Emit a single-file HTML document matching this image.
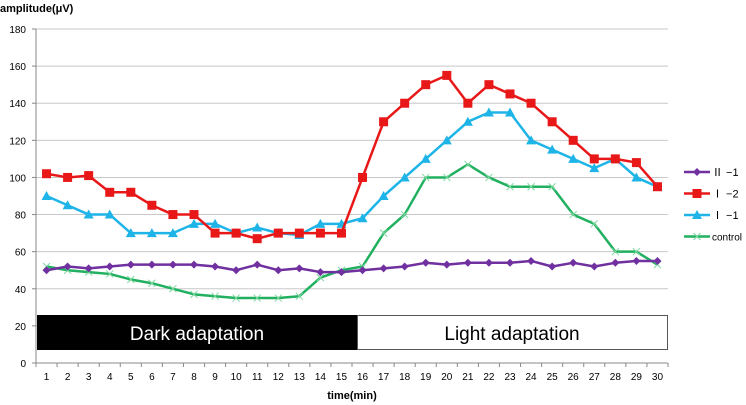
<!DOCTYPE html>
<html><head><meta charset="utf-8"><style>
html,body{margin:0;padding:0;background:#fff;}
svg{display:block;font-family:"Liberation Sans","Noto Sans CJK JP",sans-serif;}
</style></head><body>
<svg id="chart" width="746" height="405" viewBox="0 0 746 405" xmlns="http://www.w3.org/2000/svg">
<text x="0" y="12" font-size="11" font-weight="bold" fill="#000">amplitude(μV)</text>
<text x="352" y="399" font-size="11" font-weight="bold" fill="#000" text-anchor="middle">time(min)</text>
<g id="grid"></g>
<rect x="37" y="315" width="320" height="35" fill="#000"/>
<text x="197" y="340" font-size="19" fill="#fff" text-anchor="middle">Dark adaptation</text>
<rect x="357.5" y="315.5" width="310" height="34" fill="#fff" stroke="#555" stroke-width="1"/>
<text x="512" y="340" font-size="19" fill="#000" text-anchor="middle">Light adaptation</text>
<g id="axes"></g>
<g id="series"></g>
<g id="legend"></g>
</svg>
<script>
const categories = [1,2,3,4,5,6,7,8,9,10,11,12,13,14,15,16,17,18,19,20,21,22,23,24,25,26,27,28,29,30];
const yTicks = [0,20,40,60,80,100,120,140,160,180];
const seriesNames = ["Ⅱ −1","Ⅰ −2","Ⅰ −1","control"];
const seriesII1 = [50,52,51,52,53,53,53,53,52,50,53,50,51,49,49,50,51,52,54,53,54,54,54,55,52,54,52,54,55,55];
const seriesI2 = [102,100,101,92,92,85,80,80,70,70,67,70,70,70,70,100,130,140,150,155,140,150,145,140,130,120,110,110,108,95];
const seriesI1 = [90,85,80,80,70,70,70,75,75,70,73,70,69,75,75,78,90,100,110,120,130,135,135,120,115,110,105,110,100,95];
const seriesControl = [52,50,49,48,45,43,40,37,36,35,35,35,36,46,50,52,70,80,100,100,107,100,95,95,95,80,75,60,60,53];

const NS="http://www.w3.org/2000/svg";
const X0=36, X1=668, Y0=363, Y1=29, YMAX=180;
const band=(X1-X0)/categories.length;
const xPos=i=>X0+band*(i+0.5);
const yPos=v=>Y0-(v/YMAX)*(Y0-Y1);
function mk(tag,attrs,parent){const e=document.createElementNS(NS,tag);for(const k in attrs)e.setAttribute(k,attrs[k]);parent.appendChild(e);return e;}
const grid=document.getElementById('grid'), axes=document.getElementById('axes'), ser=document.getElementById('series'), leg=document.getElementById('legend');

yTicks.forEach(t=>{
  const y=yPos(t);
  if(t>0){const l=mk('line',{x1:X0,x2:X1,y1:y,y2:y,stroke:'#c8c8c8','stroke-width':1},grid);
  
  }
  const tk=mk('line',{x1:X0-4,x2:X0,y1:y,y2:y,stroke:'#888'},axes);
  
  
  const tx=mk('text',{x:X0-10,y:y+4,'font-size':10,'text-anchor':'end',fill:'#000'},axes);
  tx.textContent=t;
  
  
});
const ya=mk('line',{x1:X0,x2:X0,y1:Y1,y2:Y0,stroke:'#888'},axes);


const xa=mk('line',{x1:X0,x2:X1,y1:Y0,y2:Y0,stroke:'#888'},axes);


for(let i=0;i<=categories.length;i++){
  const x=X0+band*i;
  const tk=mk('line',{x1:x,x2:x,y1:Y0,y2:Y0+4,stroke:'#888'},axes);
  
  
}
categories.forEach((c,i)=>{
  const tx=mk('text',{x:xPos(i),y:Y0+17,'font-size':10,'text-anchor':'middle',fill:'#000'},axes);
  tx.textContent=c;
  
  
});

function marker(type,x,y,color,g){
  let e;
  if(type==='diamond') e=mk('polygon',{points:`${x},${y-4} ${x+4},${y} ${x},${y+4} ${x-4},${y}`,fill:color},g);
  else if(type==='square') e=mk('rect',{x:x-4.5,y:y-4.5,width:9,height:9,fill:color},g);
  else if(type==='triangle') e=mk('polygon',{points:`${x},${y-5} ${x+5},${y+4} ${x-5},${y+4}`,fill:color},g);
  else { e=mk('path',{d:`M${x-3.5},${y-3.5}L${x+3.5},${y+3.5}M${x+3.5},${y-3.5}L${x-3.5},${y+3.5}`,stroke:color,'stroke-width':1,fill:'none'},g); }
  return e;
}
const defs=[
  {data:seriesControl,color:'#20b060',m:'x',name:'control'},
  {data:seriesII1,color:'#7030a0',m:'diamond',name:'II-1'},
  {data:seriesI1,color:'#1eb4e8',m:'triangle',name:'I-1'},
  {data:seriesI2,color:'#e81818',m:'square',name:'I-2'}
];
defs.forEach(s=>{
  const g=mk('g',{},ser);
  
  
  const pts=s.data.map((v,i)=>xPos(i)+','+yPos(v)).join(' ');
  const pl=mk('polyline',{points:pts,fill:'none',stroke:s.color,'stroke-width':2.5,'stroke-linejoin':'round'},g);
  
  
  s.data.forEach((v,i)=>{
    const m=marker(s.m,xPos(i),yPos(v),s.m==='x'?'#7fd8a0':s.color,g);
    
    
  });
});
const legDefs=[
  {color:'#7030a0',m:'diamond',label:seriesNames[0]},
  {color:'#e81818',m:'square',label:seriesNames[1]},
  {color:'#1eb4e8',m:'triangle',label:seriesNames[2]},
  {color:'#20b060',m:'x',label:seriesNames[3]}
];
legDefs.forEach((d,i)=>{
  const y=172+i*21.5;
  const g=mk('g',{},leg);
  
  
  mk('line',{x1:684,x2:710,y1:y,y2:y,stroke:d.color,'stroke-width':2.5},g);
  marker(d.m,697,y,d.m==='x'?'#7fd8a0':d.color,g);
  const t=mk('text',{x:712,y:y+4,'font-size':d.m==='x'?10:11,fill:'#000'},g);
  t.textContent=d.label;
});
</script>
</body></html>
